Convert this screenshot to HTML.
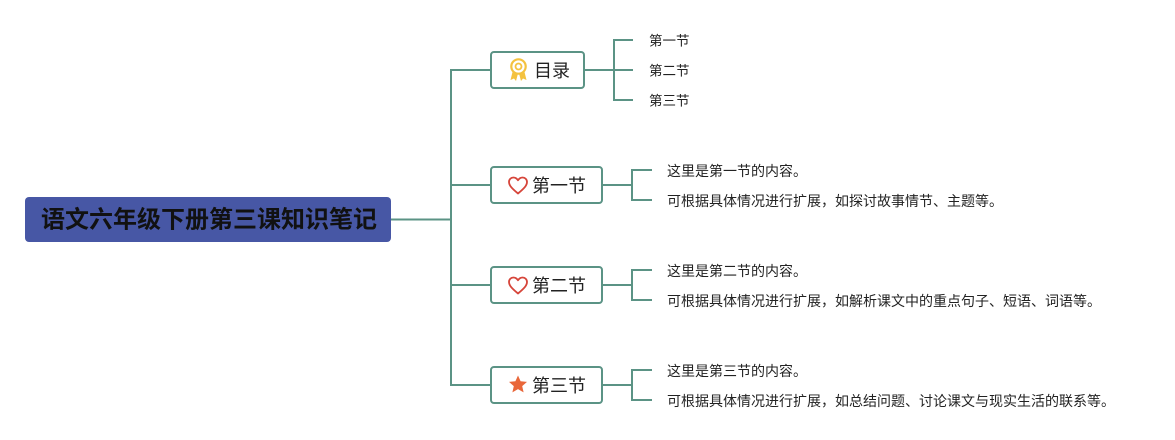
<!DOCTYPE html>
<html>
<head>
<meta charset="utf-8">
<style>
  html,body{margin:0;padding:0;background:#fff;}
  body{width:1175px;height:440px;overflow:hidden;}
  svg{display:block;}
  text{font-family:"Liberation Sans","Noto Sans CJK SC",sans-serif;}
</style>
</head>
<body>
<svg width="1175" height="440" viewBox="0 0 1175 440" xmlns="http://www.w3.org/2000/svg">
  <g fill="none" stroke="#5b9385" stroke-width="2">
    <!-- root connector -->
    <line x1="391" y1="219.5" x2="452" y2="219.5"/>
    <line x1="451" y1="69" x2="451" y2="386"/>
    <line x1="451" y1="70" x2="491" y2="70"/>
    <line x1="451" y1="185" x2="491" y2="185"/>
    <line x1="451" y1="285" x2="491" y2="285"/>
    <line x1="451" y1="385" x2="491" y2="385"/>
    <!-- 目录 children -->
    <line x1="584" y1="70" x2="614" y2="70"/>
    <line x1="614" y1="39" x2="614" y2="101"/>
    <line x1="614" y1="40" x2="633" y2="40"/>
    <line x1="614" y1="70" x2="633" y2="70"/>
    <line x1="614" y1="100" x2="633" y2="100"/>
    <!-- 第一节 children -->
    <line x1="602" y1="185" x2="632" y2="185"/>
    <line x1="632" y1="169" x2="632" y2="201"/>
    <line x1="632" y1="170" x2="652" y2="170"/>
    <line x1="632" y1="200" x2="652" y2="200"/>
    <!-- 第二节 children -->
    <line x1="602" y1="285" x2="632" y2="285"/>
    <line x1="632" y1="269" x2="632" y2="301"/>
    <line x1="632" y1="270" x2="652" y2="270"/>
    <line x1="632" y1="300" x2="652" y2="300"/>
    <!-- 第三节 children -->
    <line x1="602" y1="385" x2="632" y2="385"/>
    <line x1="632" y1="369" x2="632" y2="401"/>
    <line x1="632" y1="370" x2="652" y2="370"/>
    <line x1="632" y1="400" x2="652" y2="400"/>
  </g>

  <!-- root -->
  <rect x="25" y="197" width="366" height="45" rx="4" ry="4" fill="#4757a5"/>
  <text x="209" y="220" text-anchor="middle" dominant-baseline="central" font-size="24" font-weight="bold" fill="#111">语文六年级下册第三课知识笔记</text>

  <!-- main nodes -->
  <g fill="#fff" stroke="#5b9385" stroke-width="2">
    <rect x="491" y="52" width="93" height="36" rx="3" ry="3"/>
    <rect x="491" y="167" width="111" height="36" rx="3" ry="3"/>
    <rect x="491" y="267" width="111" height="36" rx="3" ry="3"/>
    <rect x="491" y="367" width="111" height="36" rx="3" ry="3"/>
  </g>

  <!-- medal icon -->
  <g>
    <path d="M512.5 72 L510.5 80 L514 78.5 L516 81 L518 73.5 Z" fill="#f4c23f"/>
    <path d="M524.5 72 L526.5 80 L523 78.5 L521 81 L519 73.5 Z" fill="#f4c23f"/>
    <circle cx="518.5" cy="66.5" r="7.2" fill="#fff" stroke="#f4c23f" stroke-width="2.2"/>
    <circle cx="518.5" cy="66.5" r="3" fill="none" stroke="#f4c23f" stroke-width="1.8"/>
  </g>
  <text x="534" y="71" dominant-baseline="central" font-size="18" fill="#222">目录</text>

  <!-- heart icons -->
  <path d="M518 193.5 C512 188.5 509 185.5 509 182 C509 179.3 511 177.5 513.4 177.5 C515.3 177.5 516.9 178.6 518 180.3 C519.1 178.6 520.7 177.5 522.6 177.5 C525 177.5 527 179.3 527 182 C527 185.5 524 188.5 518 193.5 Z" fill="none" stroke="#d6453a" stroke-width="1.8" stroke-linejoin="round"/>
  <text x="532" y="186" dominant-baseline="central" font-size="18" fill="#222">第一节</text>

  <path d="M518 293.5 C512 288.5 509 285.5 509 282 C509 279.3 511 277.5 513.4 277.5 C515.3 277.5 516.9 278.6 518 280.3 C519.1 278.6 520.7 277.5 522.6 277.5 C525 277.5 527 279.3 527 282 C527 285.5 524 288.5 518 293.5 Z" fill="none" stroke="#d6453a" stroke-width="1.8" stroke-linejoin="round"/>
  <text x="532" y="286" dominant-baseline="central" font-size="18" fill="#222">第二节</text>

  <!-- star icon -->
  <path d="M518 375.5 L520.6 381.3 L527 381.9 L522.2 386.1 L523.6 392.4 L518 389.1 L512.4 392.4 L513.8 386.1 L509 381.9 L515.4 381.3 Z" fill="#e9673a"/>
  <text x="532" y="386" dominant-baseline="central" font-size="18" fill="#222">第三节</text>

  <!-- TOC leaves -->
  <g font-size="13.5" fill="#222">
    <text x="649" y="41" dominant-baseline="central">第一节</text>
    <text x="649" y="71" dominant-baseline="central">第二节</text>
    <text x="649" y="101" dominant-baseline="central">第三节</text>
  </g>

  <!-- detail leaves -->
  <g font-size="14" fill="#222">
    <text x="667" y="171" dominant-baseline="central">这里是第一节的内容。</text>
    <text x="667" y="201" dominant-baseline="central">可根据具体情况进行扩展，如探讨故事情节、主题等。</text>
    <text x="667" y="271" dominant-baseline="central">这里是第二节的内容。</text>
    <text x="667" y="301" dominant-baseline="central">可根据具体情况进行扩展，如解析课文中的重点句子、短语、词语等。</text>
    <text x="667" y="371" dominant-baseline="central">这里是第三节的内容。</text>
    <text x="667" y="401" dominant-baseline="central">可根据具体情况进行扩展，如总结问题、讨论课文与现实生活的联系等。</text>
  </g>
</svg>
</body>
</html>
